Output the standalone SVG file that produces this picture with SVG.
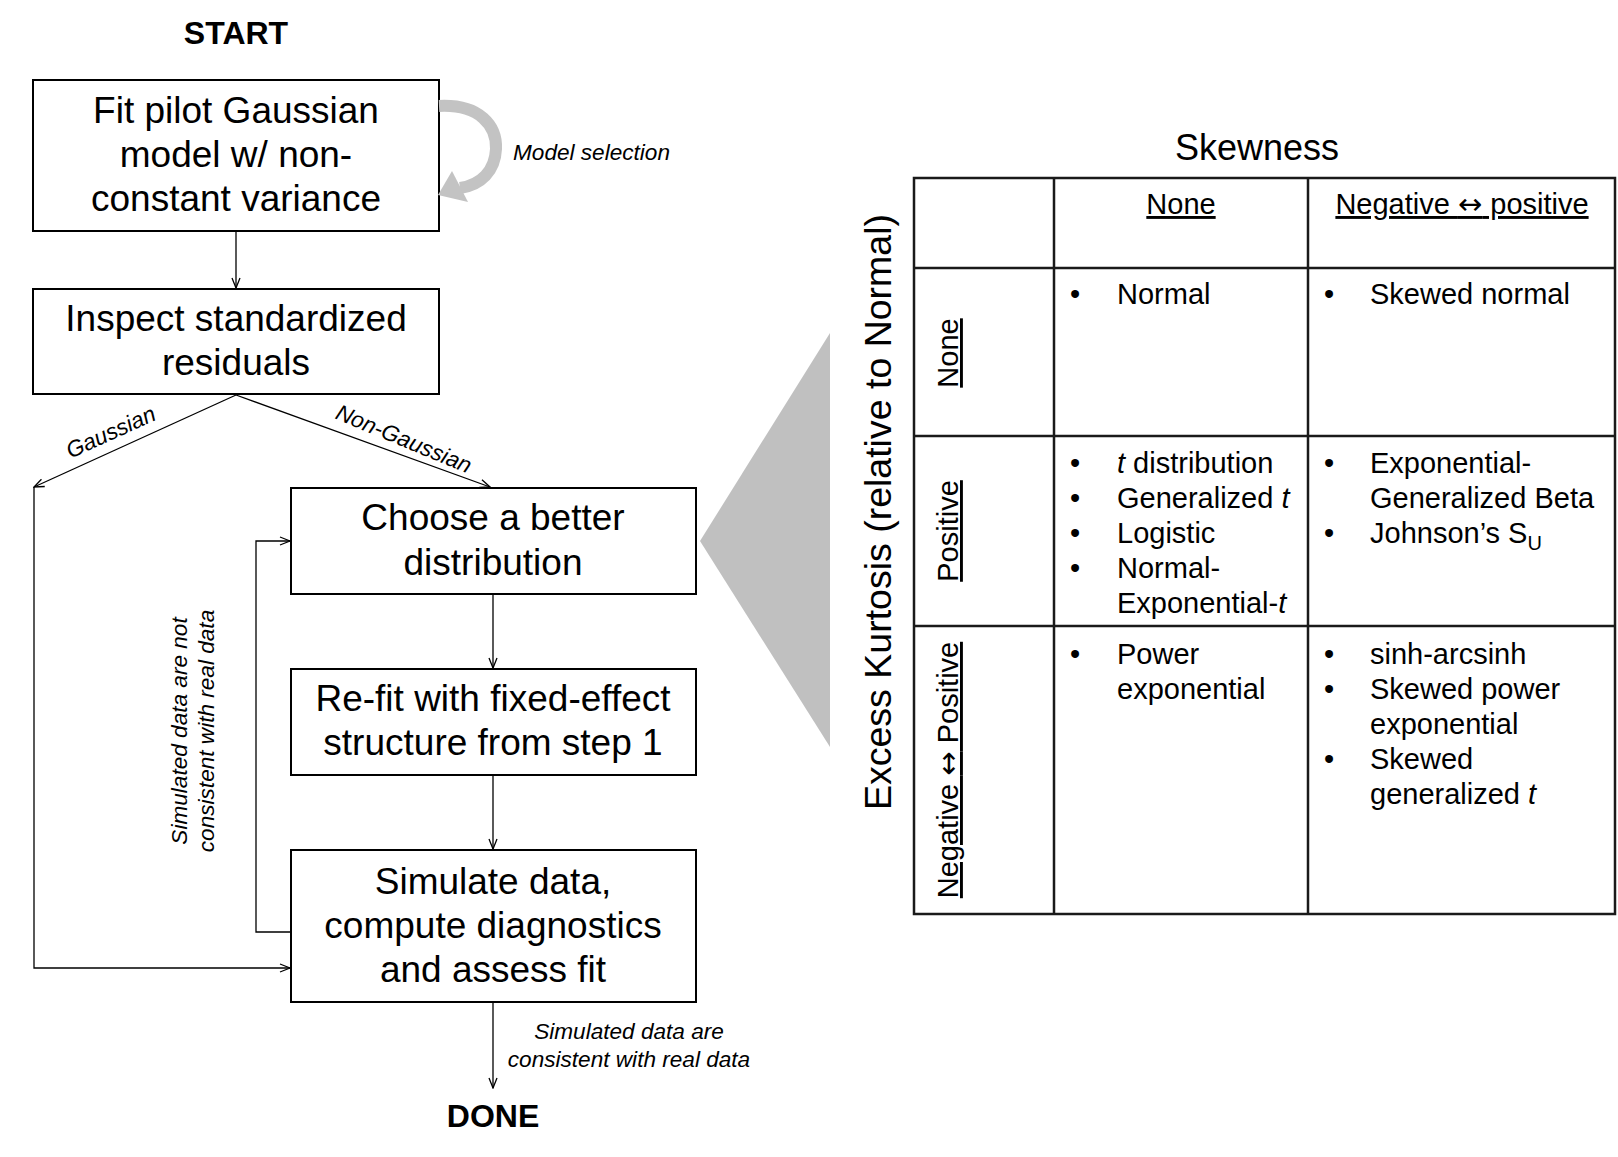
<svg xmlns="http://www.w3.org/2000/svg" width="1618" height="1157" viewBox="0 0 1618 1157">
<style>
text { font-family: "Liberation Sans", Arial, sans-serif; fill: #000; }
.box { fill: #fff; stroke: #000; stroke-width: 2; }
.bt { font-size: 37px; text-anchor: middle; }
.term { font-size: 32px; font-weight: bold; text-anchor: middle; }
.lbl { font-size: 22.6px; font-style: italic; }
.mid { text-anchor: middle; }
.conn { stroke: #000; stroke-width: 1.3; fill: none; marker-end: url(#arr); }
.grid { stroke: #1a1a1a; stroke-width: 2.5; fill: none; }
.tt { font-size: 29px; }
.hd { font-size: 29px; text-anchor: middle; text-decoration: underline; }
.it { font-style: italic; }
.ar { font-family: "DejaVu Sans", sans-serif; font-size: 29px; }
</style>
<defs>
<marker id="arr" viewBox="0 0 12 10" refX="11" refY="5" markerWidth="12" markerHeight="10" orient="auto" markerUnits="userSpaceOnUse">
<path d="M1,1 L11,5 L1,9" fill="none" stroke="#000" stroke-width="1.3"/>
</marker>
</defs>
<rect width="1618" height="1157" fill="#fff"/>

<g id="start"><text class="term" x="236" y="44">START</text></g>

<g id="fit">
<rect class="box" x="33" y="80" width="406" height="151"/>
<text class="bt" x="236" y="123">Fit pilot Gaussian</text>
<text class="bt" x="236" y="167">model w/ non-</text>
<text class="bt" x="236" y="211">constant variance</text>
</g>

<g id="model-selection">
<path d="M439,106 C480,104 497,126 496,149 C495,171 481,185 460,188" fill="none" stroke="#c3c3c3" stroke-width="12"/>
<polygon points="438,195 452,171 468,202" fill="#c3c3c3"/>
<text class="lbl" x="513" y="160">Model selection</text>
</g>

<g id="inspect">
<rect class="box" x="33" y="289" width="406" height="105"/>
<text class="bt" x="236" y="331">Inspect standardized</text>
<text class="bt" x="236" y="375">residuals</text>
</g>

<g id="choose">
<rect class="box" x="291" y="488" width="405" height="106"/>
<text class="bt" x="493" y="530">Choose a better</text>
<text class="bt" x="493" y="575">distribution</text>
</g>

<g id="refit">
<rect class="box" x="291" y="669" width="405" height="106"/>
<text class="bt" x="493" y="711">Re-fit with fixed-effect</text>
<text class="bt" x="493" y="755">structure from step 1</text>
</g>

<g id="simulate">
<rect class="box" x="291" y="850" width="405" height="152"/>
<text class="bt" x="493" y="894">Simulate data,</text>
<text class="bt" x="493" y="938">compute diagnostics</text>
<text class="bt" x="493" y="982">and assess fit</text>
</g>

<g id="done"><text class="term" x="493" y="1127">DONE</text></g>

<g id="connectors">
<line class="conn" x1="236" y1="231" x2="236" y2="288"/>
<line class="conn" x1="236" y1="395" x2="34" y2="487"/>
<line class="conn" x1="236" y1="395" x2="490" y2="487"/>
<polyline class="conn" points="34,487 34,968 290,968"/>
<line class="conn" x1="493" y1="594" x2="493" y2="668"/>
<line class="conn" x1="493" y1="775" x2="493" y2="849"/>
<polyline class="conn" points="291,932 256,932 256,541 290,541"/>
<line class="conn" x1="493" y1="1002" x2="493" y2="1088"/>
<text class="lbl mid" transform="translate(114,439) rotate(-24.5)">Gaussian</text>
<text class="lbl mid" transform="translate(401,446) rotate(22.5)">Non-Gaussian</text>
<text class="lbl mid" transform="translate(187,731) rotate(-90)">Simulated data are not</text>
<text class="lbl mid" transform="translate(214,731) rotate(-90)">consistent with real data</text>
<text class="lbl mid" x="629" y="1039">Simulated data are</text>
<text class="lbl mid" x="629" y="1067">consistent with real data</text>
</g>

<g id="zoom-wedge"><polygon points="830,333 700,541 830,747" fill="#c0c0c0"/></g>

<g id="table">
<text class="mid" x="1257" y="160" font-size="36">Skewness</text>
<text class="mid" transform="translate(891,512) rotate(-90)" font-size="37.5">Excess Kurtosis (relative to Normal)</text>
<rect class="grid" x="914" y="178" width="701" height="736"/>
<line class="grid" x1="1054" y1="178" x2="1054" y2="914"/>
<line class="grid" x1="1308" y1="178" x2="1308" y2="914"/>
<line class="grid" x1="914" y1="268" x2="1615" y2="268"/>
<line class="grid" x1="914" y1="436" x2="1615" y2="436"/>
<line class="grid" x1="914" y1="626" x2="1615" y2="626"/>

<text class="hd" x="1181" y="214">None</text>
<text class="hd" x="1462" y="214">Negative <tspan class="ar">↔</tspan> positive</text>

<text class="hd" transform="translate(958,353) rotate(-90)">None</text>
<text class="hd" transform="translate(958,531) rotate(-90)">Positive</text>
<text class="hd" transform="translate(958,770) rotate(-90)">Negative <tspan class="ar">↔</tspan> Positive</text>

<g id="cells">
<text class="tt mid" x="1075" y="304">•</text>
<text class="tt" x="1117" y="304">Normal</text>
<text class="tt mid" x="1329" y="304">•</text>
<text class="tt" x="1370" y="304">Skewed normal</text>

<text class="tt mid" x="1075" y="473">•</text>
<text class="tt" x="1117" y="473"><tspan class="it">t</tspan> distribution</text>
<text class="tt mid" x="1075" y="508">•</text>
<text class="tt" x="1117" y="508">Generalized <tspan class="it">t</tspan></text>
<text class="tt mid" x="1075" y="543">•</text>
<text class="tt" x="1117" y="543">Logistic</text>
<text class="tt mid" x="1075" y="578">•</text>
<text class="tt" x="1117" y="578">Normal-</text>
<text class="tt" x="1117" y="613">Exponential-<tspan class="it">t</tspan></text>

<text class="tt mid" x="1329" y="473">•</text>
<text class="tt" x="1370" y="473">Exponential-</text>
<text class="tt" x="1370" y="508">Generalized Beta</text>
<text class="tt mid" x="1329" y="543">•</text>
<text class="tt" x="1370" y="543">Johnson’s S<tspan font-size="20" dy="7">U</tspan></text>

<text class="tt mid" x="1075" y="664">•</text>
<text class="tt" x="1117" y="664">Power</text>
<text class="tt" x="1117" y="699">exponential</text>

<text class="tt mid" x="1329" y="664">•</text>
<text class="tt" x="1370" y="664">sinh-arcsinh</text>
<text class="tt mid" x="1329" y="699">•</text>
<text class="tt" x="1370" y="699">Skewed power</text>
<text class="tt" x="1370" y="734">exponential</text>
<text class="tt mid" x="1329" y="769">•</text>
<text class="tt" x="1370" y="769">Skewed</text>
<text class="tt" x="1370" y="804">generalized <tspan class="it">t</tspan></text>
</g>
</g>
</svg>
